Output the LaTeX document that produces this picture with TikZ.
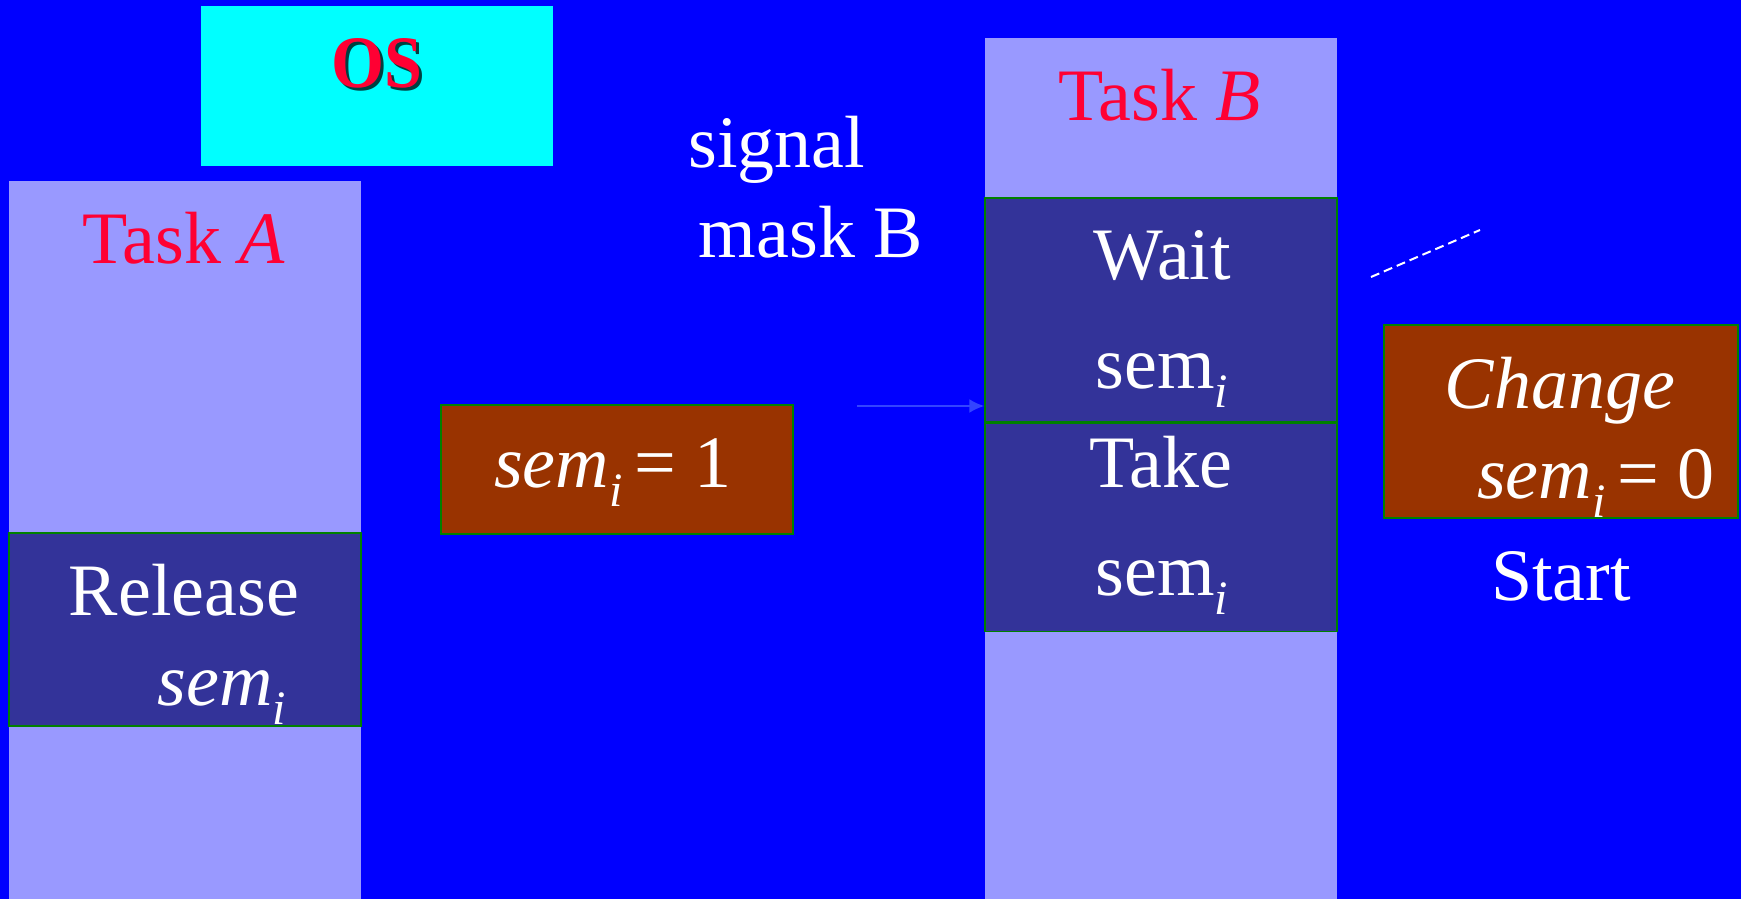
\documentclass[tikz,border=0pt]{standalone}
\usepackage{fontspec}
\setmainfont{Liberation Serif}
\usetikzlibrary{arrows.meta,positioning}

\definecolor{slideblue}{HTML}{0000FF}
\definecolor{oscyan}{HTML}{00FFFF}
\definecolor{taskcol}{HTML}{9999FF}
\definecolor{stepblue}{HTML}{333399}
\definecolor{valbrown}{HTML}{993300}
\definecolor{edgegreen}{HTML}{008000}
\definecolor{taskred}{HTML}{FF0033}
\definecolor{sigblue}{HTML}{3344FF}

\newcommand{\slidefont}{\fontsize{74}{80}\selectfont}
\newcommand{\subi}{\raisebox{-19pt}{\fontsize{48}{50}\selectfont\itshape i}}

\tikzset{
  column/.style={fill=taskcol, minimum width=352pt, inner sep=0pt},
  stepbox/.style={fill=stepblue, draw=edgegreen, line width=1.5pt, minimum width=352pt, inner sep=0pt},
  valbox/.style={fill=valbrown, draw=edgegreen, line width=1.5pt, inner sep=0pt},
  txt/.style={font=\slidefont, text=white, anchor=base, inner sep=0pt},
  redtxt/.style={txt, text=taskred},
}

\begin{document}
\begin{tikzpicture}[x=1pt,y=-1pt]
  \fill[slideblue] (0,0) rectangle (1741,899);
  \useasboundingbox (0,0) rectangle (1741,899);

  % OS
  \node[fill=oscyan, minimum width=352pt, minimum height=160pt, inner sep=0pt] (os) at (377,86) {};
  \node[txt, text=black, opacity=0.75, font=\slidefont\bfseries] (osshadow) at (380,91) {\scalebox{0.92}[1]{OS}};
  \node[redtxt, font=\slidefont\bfseries] (oslabel) at (377,88) {\scalebox{0.92}[1]{OS}};

  % task A
  \node[column, minimum height=718pt] (colA) at (185,540) {};
  \node[redtxt] (taskA) at (184,263) {Task \textit{A}};
  \node[stepbox, minimum height=193pt] (release) at (185,629.5) {};
  \node[txt] (reltxt) at (184,615) {Release};
  \node[txt] (relsem) at (222,705) {\textit{sem}\subi};

  % signal
  \node[txt] (signal) at (777,167) {signal};
  \node[txt] (mask) at (811,257) {mask B};
  \node[valbox, minimum width=352pt, minimum height=129pt] (semone) at (617,469.5) {};
  \node[txt] (semonetxt) at (613,487) {\textit{sem}\subi\,= 1};

  % task B
  \node[column, minimum height=861pt] (colB) at (1161,468.5) {};
  \node[redtxt] (taskB) at (1160,120) {Task \textit{B}};
  \node[stepbox, minimum height=224pt] (wait) at (1161,310) {};
  \node[stepbox, minimum height=208pt, below=0pt of wait] (take) {};
  \node[txt] (waittxt) at (1162,279) {Wait};
  \node[txt] (waitsem) at (1162,388) {sem\subi};
  \node[txt] (taketxt) at (1161,487) {Take};
  \node[txt] (takesem) at (1162,595) {sem\subi};

  % change
  \node[valbox, minimum width=354pt, minimum height=193pt] (change) at (1561,421.5) {};
  \node[txt] (changetxt) at (1560,408) {\textit{Change}};
  \node[txt] (semzero) at (1596,498) {\textit{sem}\subi\,= 0};
  \node[txt] (start) at (1561,600) {Start};

  \coordinate (sigfrom) at (857,406);
  \draw[sigblue, line width=2pt, -{Latex[length=15pt,width=14pt]}] (sigfrom) -- (sigfrom -| wait.west);

  \coordinate (dashlo) at (1371,277);
  \coordinate (dashhi) at (1480,230);
  \draw[white, line width=2pt, dash pattern=on 9pt off 5pt] (dashlo) -- (dashhi);
\end{tikzpicture}
\end{document}
